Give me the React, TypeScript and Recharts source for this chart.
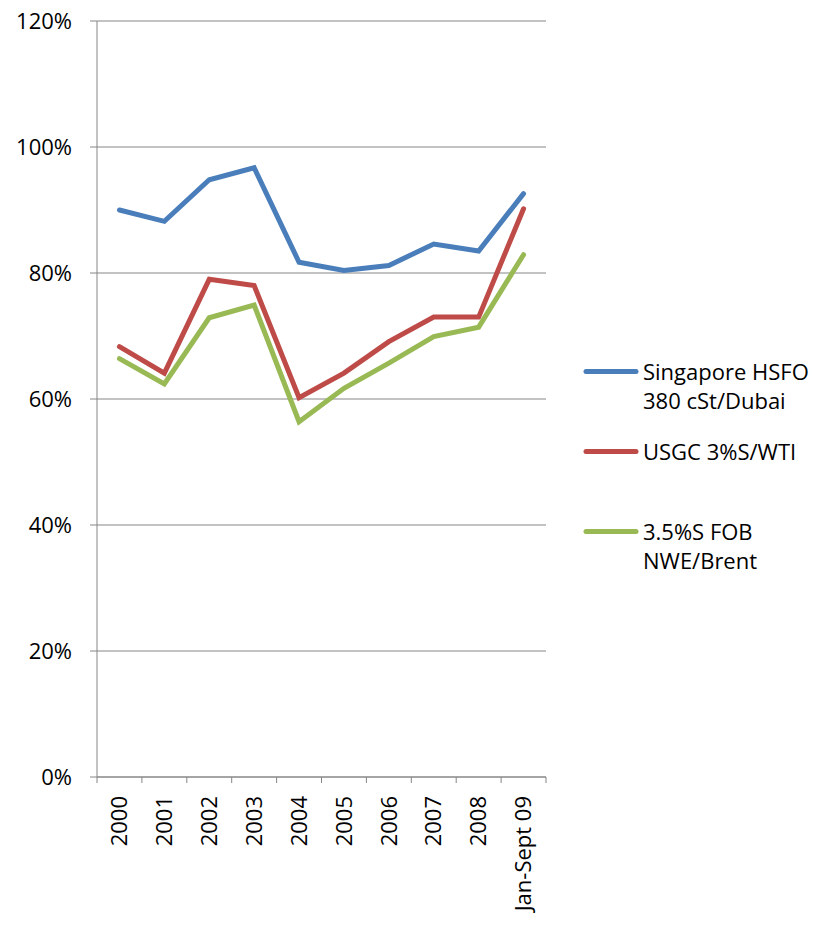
import React from 'react';
import { LineChart, Line, XAxis, YAxis, CartesianGrid, Legend } from 'recharts';

const categories = ['2000', '2001', '2002', '2003', '2004', '2005', '2006', '2007', '2008', 'Jan-Sept 09'];
const singapore = [90.0, 88.2, 94.8, 96.7, 81.7, 80.4, 81.2, 84.6, 83.5, 92.6];
const usgc = [68.3, 64.1, 79.0, 78.0, 60.2, 64.1, 69.1, 73.0, 73.0, 90.2];
const nwe = [66.4, 62.4, 72.9, 74.9, 56.4, 61.7, 65.7, 69.9, 71.4, 82.9];
const yTicks = [0, 20, 40, 60, 80, 100, 120];

const seriesInfo = [
  { key: 'singapore', name: 'Singapore HSFO\n380 cSt/Dubai', color: '#4A7EBB' },
  { key: 'usgc', name: 'USGC 3%S/WTI', color: '#BE4B48' },
  { key: 'nwe', name: '3.5%S FOB\nNWE/Brent', color: '#98B954' },
];

const data = categories.map((c, i) => ({
  year: c,
  singapore: singapore[i],
  usgc: usgc[i],
  nwe: nwe[i],
}));

const FONT = '"Open Sans", "Noto Sans", sans-serif';
const AXIS = '#868686';
const PLOT_W = 449;
const STEP = PLOT_W / categories.length;

const XTick = (props: any) => {
  const { x, y, payload, index } = props;
  const axisY = y - 6 - 13;
  return (
    <g>
      <line x1={x - STEP / 2} x2={x - STEP / 2} y1={axisY} y2={axisY + 6} stroke={AXIS} strokeWidth={1} />
      {index === categories.length - 1 && (
        <line x1={x + STEP / 2} x2={x + STEP / 2} y1={axisY} y2={axisY + 6} stroke={AXIS} strokeWidth={1} />
      )}
      <text
        x={x}
        y={y}
        dy="0.35em"
        textAnchor="end"
        transform={`rotate(-90, ${x}, ${y})`}
        fontFamily={FONT}
        fontSize={22}
        fill="#000"
      >
        {payload.value}
      </text>
    </g>
  );
};

// keep the legend in series order (recharts sorts it by name otherwise)
const renderLegend = (props: any) => {
  const order = seriesInfo.map((s) => s.key);
  const items = [...(props.payload || [])].sort(
    (a: any, b: any) => order.indexOf(a.dataKey) - order.indexOf(b.dataKey)
  );
  return (
    <div style={{ fontFamily: FONT, fontSize: 22, lineHeight: '29px', color: '#000' }}>
      {items.map((entry: any) => (
        <div key={entry.dataKey} style={{ display: 'flex', alignItems: 'flex-start', height: 80 }}>
          <svg width={56} height={29} style={{ flexShrink: 0 }}>
            <line x1={3} x2={53} y1={14.5} y2={14.5} stroke={entry.color} strokeWidth={5} strokeLinecap="round" />
          </svg>
          <div style={{ marginLeft: 4, whiteSpace: 'pre' }}>{entry.value}</div>
        </div>
      ))}
    </div>
  );
};

export default function App() {
  return (
    <div style={{ margin: -8, fontFamily: FONT }}>
      <LineChart
        width={821}
        height={926}
        data={data}
        margin={{ top: 21, right: 275, left: 0, bottom: 0 }}
      >
        <CartesianGrid vertical={false} stroke={AXIS} strokeWidth={1} />
        <XAxis
          dataKey="year"
          interval={0}
          height={149}
          padding={{ left: STEP / 2, right: STEP / 2 }}
          stroke={AXIS}
          tickLine={false}
          tickSize={6}
          tickMargin={13}
          tick={<XTick />}
        />
        <YAxis
          domain={[0, 120]}
          ticks={yTicks}
          interval={0}
          width={97}
          stroke={AXIS}
          tickSize={7}
          tickMargin={18}
          tickFormatter={(v: number) => `${v}%`}
          tick={{ fill: '#000', fontSize: 22, fontFamily: FONT }}
        />
        <Legend
          layout="horizontal"
          align="center"
          verticalAlign="middle"
          content={renderLegend}
          wrapperStyle={{ left: 583, top: 356.5, width: 236, height: 240 }}
        />
        {seriesInfo.map((s) => (
          <Line
            key={s.key}
            type="linear"
            dataKey={s.key}
            name={s.name}
            stroke={s.color}
            strokeWidth={5}
            strokeLinecap="round"
            dot={false}
            activeDot={false}
            isAnimationActive={false}
          />
        ))}
      </LineChart>
    </div>
  );
}
